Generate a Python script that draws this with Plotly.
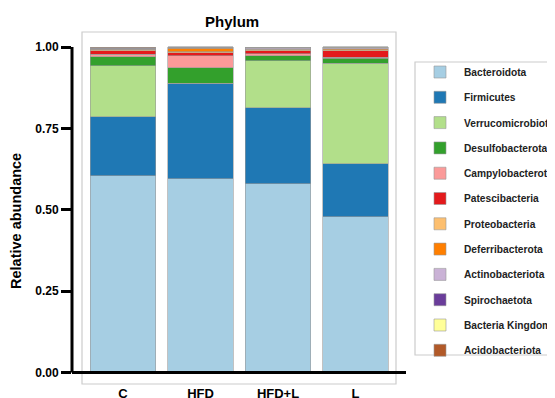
import plotly.graph_objects as go

groups = ["C", "HFD", "HFD+L", "L"]
phyla = ["Bacteroidota", "Firmicutes", "Verrucomicrobiota", "Desulfobacterota",
         "Campylobacterota", "Patescibacteria", "Proteobacteria", "Deferribacterota",
         "Actinobacteriota", "Spirochaetota", "Bacteria Kingdom", "Acidobacteriota"]
colors = ["#a6cee3", "#1f78b4", "#b2df8a", "#33a02c", "#fb9a99", "#e31a1c",
          "#fdbf6f", "#ff7f00", "#cab2d6", "#6a3d9a", "#ffff99", "#b15928"]

bacteroidota = [0.604, 0.595, 0.580, 0.479]
firmicutes = [0.181, 0.292, 0.233, 0.162]
verrucomicrobiota = [0.157, 0.002, 0.145, 0.309]
desulfobacterota = [0.028, 0.048, 0.015, 0.015]
campylobacterota = [0.008, 0.036, 0.006, 0.003]
patescibacteria = [0.010, 0.009, 0.010, 0.020]
proteobacteria = [0.003, 0.004, 0.004, 0.004]
deferribacterota = [0.002, 0.010, 0.002, 0.003]
actinobacteriota = [0.002, 0.002, 0.002, 0.002]
spirochaetota = [0.001, 0.001, 0.001, 0.001]
bacteria_kingdom = [0.001, 0.0005, 0.001, 0.001]
acidobacteriota = [0.003, 0.001, 0.001, 0.002]

series = [bacteroidota, firmicutes, verrucomicrobiota, desulfobacterota,
          campylobacterota, patescibacteria, proteobacteria, deferribacterota,
          actinobacteriota, spirochaetota, bacteria_kingdom, acidobacteriota]

yticks = [0, 0.25, 0.5, 0.75, 1.0]
yticklabels = ["0.00", "0.25", "0.50", "0.75", "1.00"]

FONT = "Arial, Liberation Sans, sans-serif"

# screen layout (page body has 8px margin)
L, R, T, B = 72, 396, 32, 384
PW, PH = R - L, B - T

def px(x):
    return (x - L) / PW

def py(y):
    return (B - y) / PH

fig = go.Figure()
for i, (name, vals) in enumerate(zip(phyla, series)):
    fig.add_trace(go.Bar(
        x=list(range(len(groups))), y=vals, name=name,
        marker=dict(color=colors[i], line=dict(color="#999999", width=0.6)),
        width=0.85, legendgroup=name,
    ))

fig.update_layout(
    barmode="stack",
    width=555, height=398,
    margin=dict(l=L - 8, r=555 - (R - 8), t=T - 8, b=398 - (B - 8), autoexpand=False),
    paper_bgcolor="white", plot_bgcolor="white",
    font=dict(family=FONT, size=11, color="black"),
    showlegend=True,
    legend=dict(
        x=px(416), y=py(57.5), xanchor="left", yanchor="top",
        borderwidth=0, bgcolor="rgba(0,0,0,0)", itemwidth=38,
        font=dict(family=FONT, size=10.2, color="#222222", weight="bold"),
        traceorder="grouped", tracegroupgap=6.3,
    ),
    xaxis=dict(
        range=[-0.658, 3.5226], tickmode="array", automargin=False,
        tickvals=list(range(len(groups))), ticktext=groups,
        showline=False, showgrid=False, zeroline=False,
        ticks="",
        tickfont=dict(family=FONT, size=13, color="black", weight="bold"),
    ),
    yaxis=dict(
        range=[-0.0353, 1.0461], tickmode="array", automargin=False,
        tickvals=yticks, ticktext=yticklabels,
        showline=False, showgrid=False, zeroline=False,
        ticks="outside", ticklen=10, tickwidth=2.5, tickcolor="black",
        tickfont=dict(family=FONT, size=12, color="black", weight="bold"),
    ),
)

# panel border
fig.add_shape(type="rect", xref="paper", yref="paper",
              x0=px(82), x1=1, y0=0, y1=1,
              line=dict(color="#cccccc", width=1.2), layer="below")
# legend box
fig.add_shape(type="rect", xref="paper", yref="paper",
              x0=px(415), x1=px(575), y0=py(355), y1=py(62),
              line=dict(color="#cccccc", width=1.2), layer="below")
# axis lines (ggprism style)
fig.add_shape(type="line", xref="paper", yref="y", x0=0, x1=0, y0=0, y1=1,
              line=dict(color="black", width=3))
fig.add_shape(type="line", xref="paper", yref="y", x0=0, x1=px(406), y0=0, y1=0,
              line=dict(color="black", width=3))

fig.add_annotation(text="Phylum", xref="paper", yref="paper",
                   x=px(232), y=py(21.5), yanchor="middle", showarrow=False,
                   font=dict(family=FONT, size=15, color="black", weight="bold"))
fig.add_annotation(text="Relative abundance", xref="paper", yref="paper",
                   x=px(16), y=py(221), xanchor="center", yanchor="middle",
                   textangle=-90, showarrow=False,
                   font=dict(family=FONT, size=14.5, color="black", weight="bold"))

fig.write_html("out.html")
